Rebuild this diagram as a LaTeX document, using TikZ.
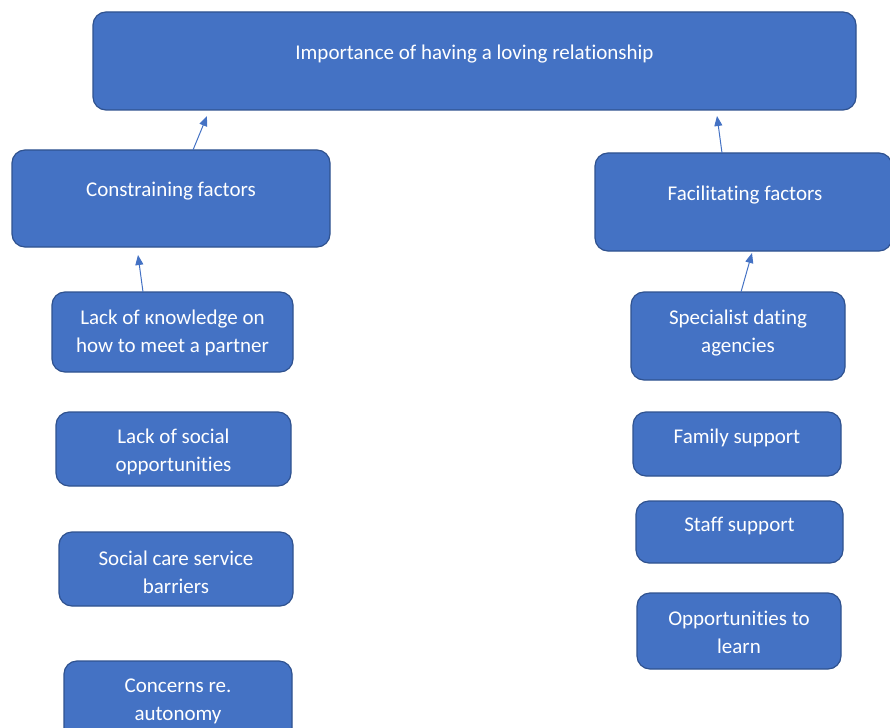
\documentclass[tikz,border=0pt]{standalone}
\usepackage{fontspec}
\setmainfont{Carlito}[Ligatures={NoCommon,NoRequired,NoContextual}]
\usetikzlibrary{arrows.meta}
\definecolor{boxfill}{HTML}{4472C4}
\definecolor{boxline}{HTML}{2F528F}
\begin{document}
\begin{tikzpicture}[x=1pt,y=-1pt,
  box/.style={draw=boxline, fill=boxfill, line width=1.2pt, rounded corners=13pt, inner sep=0pt},
  txt/.style={text=white, font=\fontsize{21}{28}\selectfont, align=center, inner sep=0pt},
  arr/.style={draw=boxfill, line width=1pt, -{Triangle[length=10pt,width=8pt]}}]
\useasboundingbox (0,0) rectangle (890,727);
\begin{scope}
\clip (0,0) rectangle (890,727);
% boxes
\node[box, minimum width=763, minimum height=98] (top) at (474.5,61) {};
\node[box, minimum width=318, minimum height=97] (con) at (171,198.5) {};
\node[box, minimum width=297, minimum height=98] (fac) at (743.5,202) {};
\node[box, minimum width=241, minimum height=80] (l1) at (172.5,332) {};
\node[box, minimum width=235, minimum height=74] (l2) at (173.5,449) {};
\node[box, minimum width=234, minimum height=74] (l3) at (176,569) {};
\node[box, minimum width=228, minimum height=80] (l4) at (178,701) {};
\node[box, minimum width=214, minimum height=88] (r1) at (738,336) {};
\node[box, minimum width=208, minimum height=64] (r2) at (737,444) {};
\node[box, minimum width=207, minimum height=62] (r3) at (739.5,532) {};
\node[box, minimum width=204, minimum height=76] (r4) at (739,631) {};
% texts
\node[txt] (toptxt) at (474.5,54) {Importance of having a loving relationship};
\node[txt] (contxt) at (171,191) {Constraining factors};
\node[txt] (factxt) at (745,195) {Facilitating factors};
\node[txt] (l1txt) at (172.5,333) {Lack of кnowledge on\\how to meet a partner};
\node[txt] (l2txt) at (173.5,452) {Lack of social\\opportunities};
\node[txt] (l3txt) at (176,572) {Social care service\\barriers};
\node[txt] (l4txt) at (178,701.5) {Concerns re.\\autonomy};
\node[txt] (r1txt) at (738,333) {Specialist dating\\agencies};
\node[txt] (r2txt) at (737,438) {Family support};
\node[txt] (r3txt) at (739.5,526) {Staff support};
\node[txt] (r4txt) at (739,632.5) {Opportunities to\\learn};
% arrows
\coordinate (a1s) at (193,150); \coordinate (a1e) at (207,116);
\coordinate (a2s) at (722,153); \coordinate (a2e) at (717,116);
\coordinate (a3s) at (143,292); \coordinate (a3e) at (138,255);
\coordinate (a4s) at (741,292); \coordinate (a4e) at (752,253);
\draw[arr] (a1s) -- (a1e);
\draw[arr] (a2s) -- (a2e);
\draw[arr] (a3s) -- (a3e);
\draw[arr] (a4s) -- (a4e);
\end{scope}
\end{tikzpicture}
\end{document}
